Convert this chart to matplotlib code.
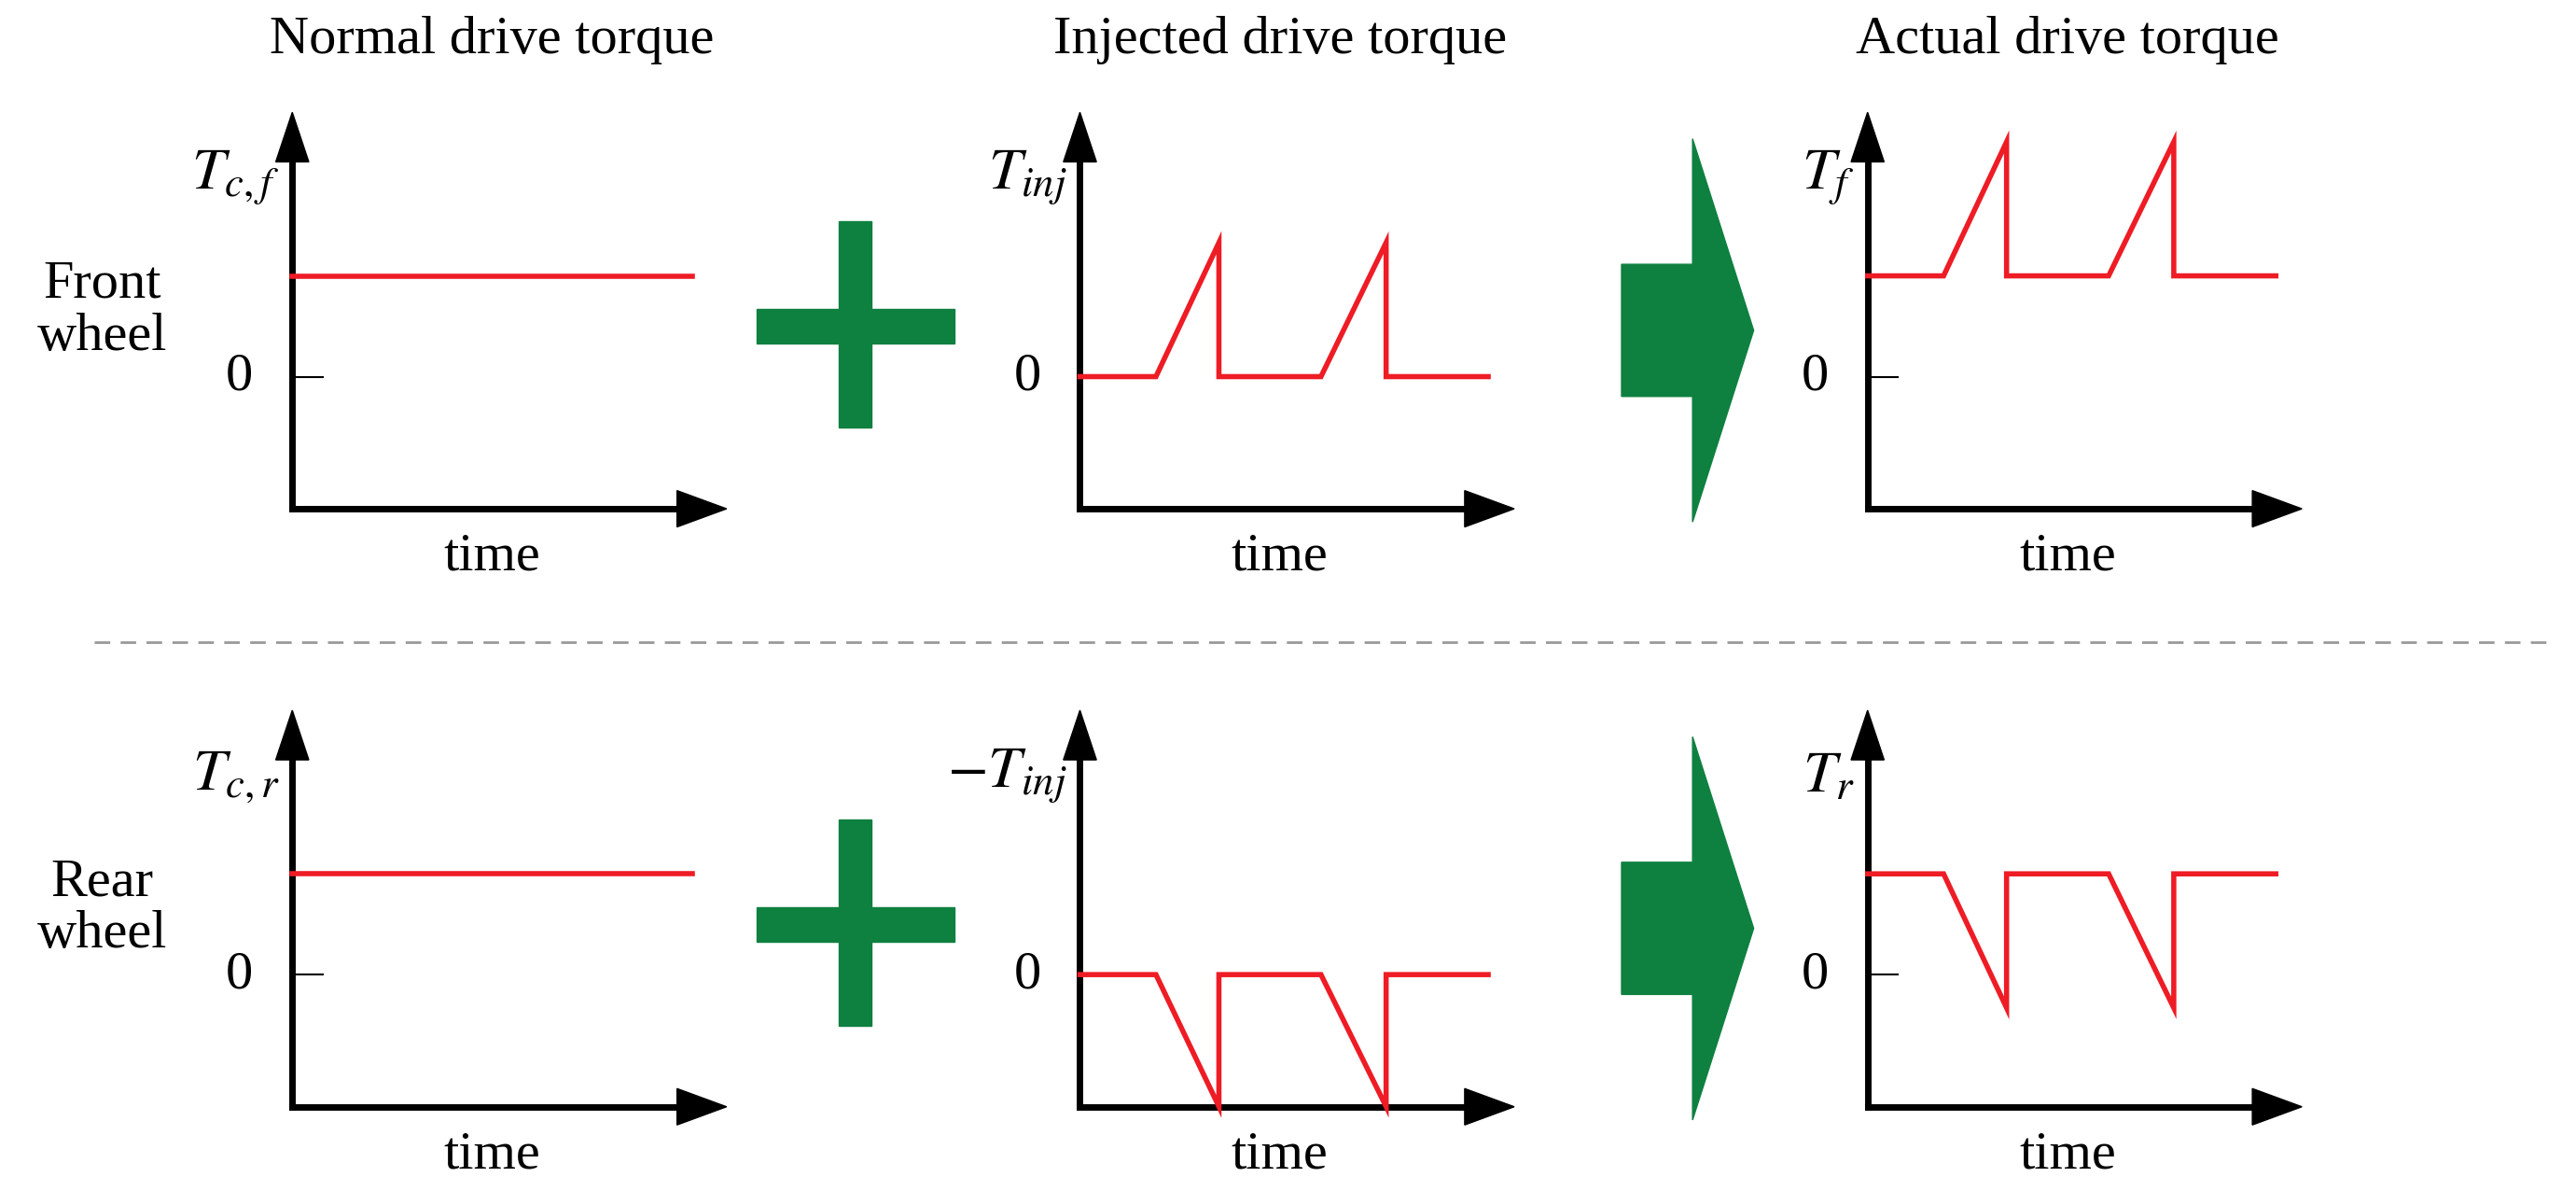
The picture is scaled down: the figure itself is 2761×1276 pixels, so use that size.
import matplotlib as mpl
mpl.use('Agg')
import matplotlib.pyplot as plt
from matplotlib.patches import Polygon, Rectangle
from matplotlib.lines import Line2D

plt.rcParams['font.family'] = ['Liberation Serif', 'DejaVu Serif']
plt.rcParams['mathtext.fontset'] = 'stix'

# reference layout is measured on a 1560 x 721 preview
W, H = 1560.0, 721.0

titles = ['Normal drive torque', 'Injected drive torque', 'Actual drive torque']
row_labels = ['Front\nwheel', 'Rear\nwheel']
y_labels = [[r'$T_{c,f}$', r'$T_{inj}$', r'$T_f$'],
            [r'$T_{c,r}$', r'$-T_{inj}$', r'$T_r$']]

# signal data (time 0..10, torque in units of the normal level)
t_flat = [0, 9.2]
t_pulse = [0, 1.75, 3.2, 3.2, 5.55, 7.05, 7.05, 9.4]
front_normal = [1, 1]
front_inj = [0, 0, 1.33, 0, 0, 1.33, 0, 0]
front_actual = [1, 1, 2.33, 1, 1, 2.33, 1, 1]
rear_normal = [1, 1]
rear_inj = [0, 0, -1.31, 0, 0, -1.31, 0, 0]
rear_actual = [1, 1, -0.33, 1, 1, -0.33, 1, 1]

series = [[(t_flat, front_normal), (t_pulse, front_inj), (t_pulse, front_actual)],
          [(t_flat, rear_normal), (t_pulse, rear_inj), (t_pulse, rear_actual)]]

col_x = [177, 654, 1131]
row_top = [68, 430]
panel_w, panel_h = 263, 240
px_per_unit = 61.0

fig = plt.figure(figsize=(27.61, 12.76), dpi=100)
FS = 42


def fx(x):
    return x / W


def fy(y):
    return 1 - y / H


for r in range(2):
    for c in range(3):
        x0, y0 = col_x[c], row_top[r]
        ax = fig.add_axes([fx(x0), fy(y0 + panel_h), panel_w / W, panel_h / H])
        ax.set_xlim(0, 10)
        ax.set_ylim(-80 / px_per_unit, 160 / px_per_unit)
        ax.axis('off')
        t, v = series[r][c]
        ax.plot(t, v, color='#ee1c25', lw=4, solid_joinstyle='miter', clip_on=False, zorder=3)
        # axes with arrow heads
        tr = ax.transAxes
        hl_x, hw_x = 30 / panel_w, 11 / panel_h
        hl_y, hw_y = 30 / panel_h, 10 / panel_w
        ax.add_line(Line2D([0, 1 - hl_x], [0, 0], color='black', lw=5, transform=tr, clip_on=False))
        ax.add_line(Line2D([0, 0], [0, 1 - hl_y], color='black', lw=5, transform=tr, clip_on=False))
        ax.add_patch(Polygon([[1 - hl_x, -hw_x], [1, 0], [1 - hl_x, hw_x]], closed=True,
                             color='black', transform=tr, clip_on=False))
        ax.add_patch(Polygon([[-hw_y, 1 - hl_y], [0, 1], [hw_y, 1 - hl_y]], closed=True,
                             color='black', transform=tr, clip_on=False))
        # zero tick
        ax.plot([0, 0.7], [0, 0], color='black', lw=1.5, clip_on=False)
        ax.text(-0.09, 0, '0', transform=ax.get_yaxis_transform(), ha='right', va='center', fontsize=FS)
        ax.text(-0.03, 0.76, y_labels[r][c], transform=tr, ha='right', va='bottom', fontsize=FS + 4)
        ax.text(0.46, -0.06, 'time', transform=tr, ha='center', va='top', fontsize=FS)
        if r == 0:
            ax.text(0.46, 1.12, titles[c], transform=tr, ha='center', va='bottom', fontsize=FS)

    dy = row_top[r] - row_top[0]
    fig.text(fx(62), fy(188 + dy), row_labels[r], ha='center', va='center', fontsize=FS, linespacing=1.1)
    green = '#0e8040'
    # plus sign
    fig.add_artist(Rectangle((fx(508), fy(259 + dy)), 20 / W, 125 / H, color=green, transform=fig.transFigure))
    fig.add_artist(Rectangle((fx(458), fy(208 + dy)), 120 / W, 21 / H, color=green, transform=fig.transFigure))
    # block arrow
    fig.add_artist(Polygon([[fx(982), fy(160 + dy)], [fx(1025), fy(160 + dy)], [fx(1025), fy(84 + dy)],
                            [fx(1062), fy(200 + dy)], [fx(1025), fy(316 + dy)], [fx(1025), fy(240 + dy)],
                            [fx(982), fy(240 + dy)]], closed=True, color=green, transform=fig.transFigure))

fig.add_artist(Line2D([fx(57), fx(1545)], [fy(389), fy(389)], color='#999999', lw=2,
                      ls=(0, (6, 4)), transform=fig.transFigure))

fig.savefig('out.png', dpi=100, facecolor='white')
